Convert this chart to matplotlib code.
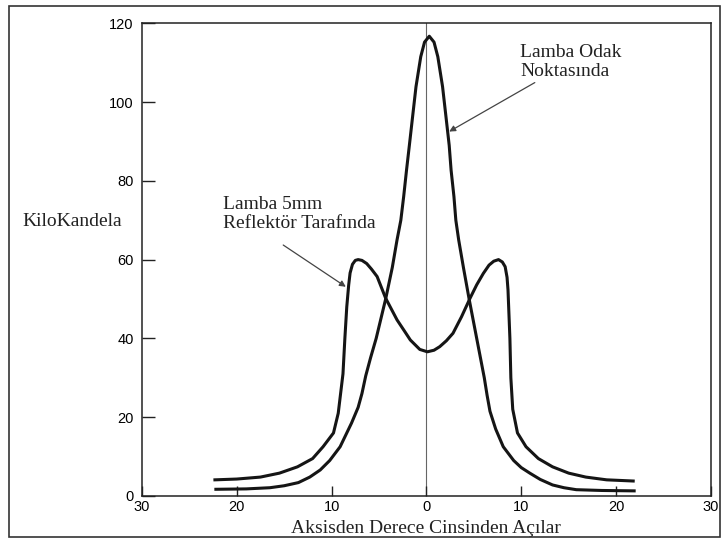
import matplotlib
matplotlib.use("Agg")
import matplotlib.pyplot as plt
from matplotlib.patches import Rectangle

# ---- data ----
# Lamba Odak Noktasında (narrow single peak)
focus_angle = [-22.2, -19.0, -16.5, -15.0, -13.5, -12.3, -11.2, -10.2, -9.1, -8.5,
               -7.9, -7.2, -6.8, -6.4, -5.9, -5.3, -4.8, -4.3, -3.6, -3.1, -2.7,
               -2.4, -2.1, -1.8, -1.5, -1.1, -0.6, -0.2, 0.3, 0.8, 1.2, 1.7, 2.1,
               2.4, 2.6, 2.9, 3.1, 3.4, 3.9, 4.5, 4.9, 5.3, 5.7, 6.1, 6.4, 6.7,
               7.3, 8.1, 9.2, 10.0, 10.9, 12.0, 13.3, 14.5, 15.8, 18.5, 21.9]
focus_kcd = [1.7, 1.8, 2.1, 2.6, 3.4, 4.8, 6.6, 9.0, 12.5, 15.5,
             18.5, 22.5, 26.0, 30.5, 35.0, 40.0, 45.0, 50.0, 58.0, 65.0, 70.0,
             76.0, 82.7, 89.0, 95.4, 103.9, 111.5, 115.2, 116.7, 115.2, 111.5, 103.9, 95.4,
             89.0, 82.7, 76.0, 70.0, 65.0, 58.0, 50.0, 45.0, 40.0, 35.0, 30.0, 25.5, 21.5,
             17.0, 12.5, 9.0, 7.2, 5.8, 4.2, 2.8, 2.1, 1.6, 1.4, 1.3]

# Lamba 5mm Reflektör Tarafında (double peak)
offset_angle = [-22.3, -20.0, -17.5, -15.5, -13.6, -12.0, -10.9, -9.8, -9.3, -8.8,
                -8.6, -8.4, -8.2, -8.05, -7.8, -7.5, -7.2, -6.8, -6.3, -5.8, -5.2,
                -4.3, -3.1, -2.3, -1.7, -0.7, 0.1, 0.8, 1.4, 2.1, 2.8, 3.7, 4.6,
                5.3, 6.0, 6.6, 7.1, 7.6, 8.0, 8.3, 8.5, 8.6, 8.8, 8.9, 9.1, 9.6,
                10.5, 11.8, 13.3, 15.0, 16.8, 19.0, 21.8]
offset_kcd = [4.1, 4.3, 4.8, 5.8, 7.4, 9.5, 12.5, 16.0, 21.0, 31.0,
              40.0, 48.0, 53.5, 56.6, 58.8, 59.8, 60.0, 59.8, 59.0, 57.6, 55.7,
              50.2, 44.7, 41.8, 39.6, 37.2, 36.6, 37.0, 37.9, 39.4, 41.3, 45.5, 50.2,
              53.6, 56.5, 58.6, 59.6, 60.0, 59.4, 58.2, 55.5, 52.3, 40.0, 30.0, 22.0, 16.0,
              12.5, 9.5, 7.4, 5.8, 4.8, 4.1, 3.8]

xtick_pos = [-30, -20, -10, 0, 10, 20, 30]
xtick_lab = ["30", "20", "10", "0", "10", "20", "30"]
ytick_pos = [0, 20, 40, 60, 80, 100, 120]

serif = ["Liberation Serif", "DejaVu Serif"]
sans = ["Liberation Sans", "DejaVu Sans"]

fig = plt.figure(figsize=(7.24, 5.4), dpi=100)
ax = fig.add_axes([0.196, 0.0815, 0.786, 0.8755])

ax.axvline(0, color="#666666", lw=0.8, zorder=1)
ax.plot(focus_angle, focus_kcd, color="#151515", lw=2.2, solid_joinstyle="round", zorder=3)
ax.plot(offset_angle, offset_kcd, color="#151515", lw=2.2, solid_joinstyle="round", zorder=3)

ax.set_xlim(-30, 30)
ax.set_ylim(0, 120)
ax.set_xticks(xtick_pos)
ax.set_xticklabels(xtick_lab, fontfamily=sans, fontsize=10.5)
ax.set_yticks(ytick_pos)
ax.set_yticklabels([str(v) for v in ytick_pos], fontfamily=sans, fontsize=10.5)
ax.tick_params(axis="both", direction="in", color="#222222", width=1.0)
ax.tick_params(axis="y", length=9, pad=6)
ax.tick_params(axis="x", length=7, pad=3)
for s in ax.spines.values():
    s.set_color("#222222")
    s.set_linewidth(1.1)

ax.set_xlabel("Aksisden Derece Cinsinden Açılar", fontfamily=serif, fontsize=14,
              labelpad=4, color="#222222")
fig.text(0.100, 0.589, "KiloKandela", fontfamily=serif, fontsize=14,
         ha="center", va="center", color="#222222")

ax.annotate("Lamba Odak\nNoktasında", xy=(2.4, 92.5), xytext=(9.9, 110.2),
            fontfamily=serif, fontsize=14, color="#222222", ha="left", va="center",
            linespacing=1.15,
            arrowprops=dict(arrowstyle="-|>", color="#444444", lw=0.9,
                            mutation_scale=9, shrinkA=0, shrinkB=0))
ax.annotate("", xy=(-8.5, 53.1), xytext=(-15.1, 63.7),
            arrowprops=dict(arrowstyle="-|>", color="#444444", lw=0.9,
                            mutation_scale=9, shrinkA=0, shrinkB=0))
ax.text(-21.4, 71.5, "Lamba 5mm\nReflektör Tarafında", fontfamily=serif, fontsize=14,
        color="#222222", ha="left", va="center", linespacing=1.15)

fig.patches.append(Rectangle((9 / 724, 3 / 540), 711 / 724, 531 / 540,
                             transform=fig.transFigure, fill=False,
                             edgecolor="#333333", lw=1.2))

fig.savefig("out.png", dpi=100)
